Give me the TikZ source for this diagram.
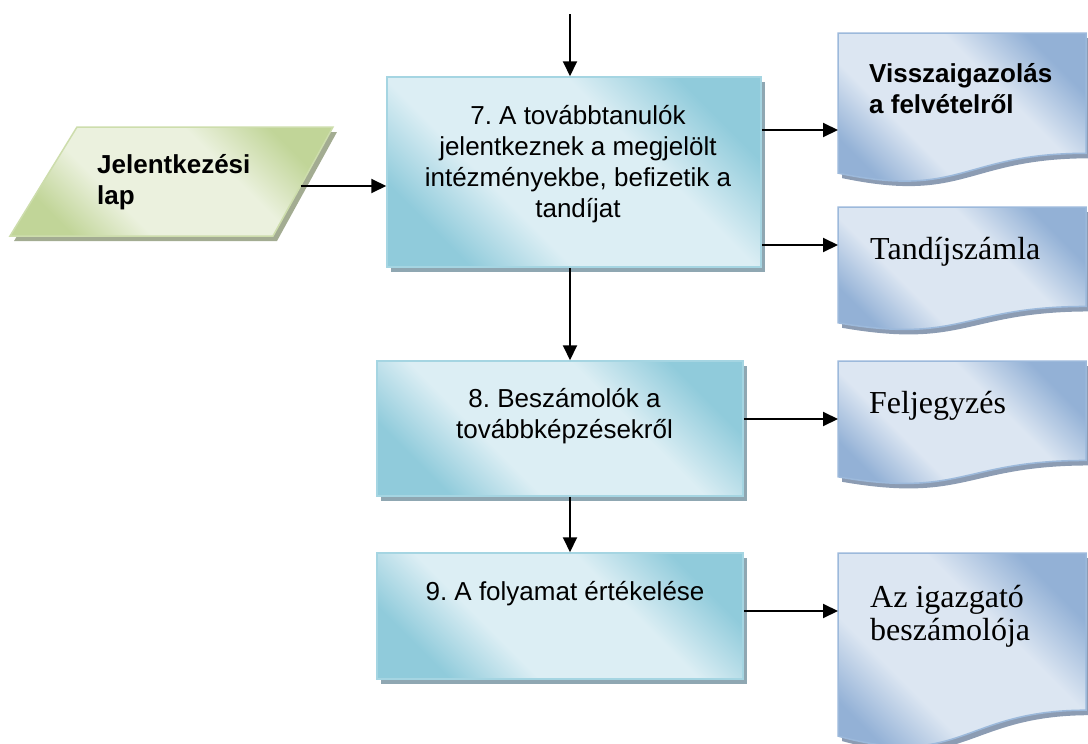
\documentclass[tikz,border=0pt]{standalone}
\usepackage{fontspec}
\setmainfont{Liberation Serif}
\setsansfont{Liberation Sans}
\usetikzlibrary{arrows.meta,shadows}
\frenchspacing

\definecolor{procLight}{HTML}{DCEEF4}
\definecolor{procDark}{HTML}{90CBDB}
\definecolor{procEdge}{HTML}{A5D5E2}
\definecolor{procShadow}{HTML}{8FA7B2}
\definecolor{docLight}{HTML}{DCE6F2}
\definecolor{docDark}{HTML}{93B1D6}
\definecolor{docEdge}{HTML}{9CB9DB}
\definecolor{docShadow}{HTML}{8C9CB3}
\definecolor{dataLight}{HTML}{EBF1DE}
\definecolor{dataDark}{HTML}{C1D598}
\definecolor{dataEdge}{HTML}{CDDDAC}
\definecolor{dataShadow}{HTML}{A3AC92}

% two-sided fills: dark in two opposite corners, light across the middle
% (the filled shape spans 25bp..75bp of each shading)
\pgfdeclareverticalshading{procshade}{100bp}{color(0bp)=(procDark); color(25bp)=(procDark);
  color(38bp)=(procLight); color(61bp)=(procLight); color(75bp)=(procDark); color(100bp)=(procDark)}
\pgfdeclareverticalshading{docshade}{100bp}{color(0bp)=(docDark); color(25bp)=(docDark);
  color(38bp)=(docLight); color(61bp)=(docLight); color(75bp)=(docDark); color(100bp)=(docDark)}
\pgfdeclareverticalshading{datashade}{100bp}{color(0bp)=(dataDark); color(25bp)=(dataDark);
  color(38bp)=(dataLight); color(61bp)=(dataLight); color(75bp)=(dataDark); color(100bp)=(dataDark)}

% outline of a document symbol: top edge y, height h
\newcommand{\docoutline}[2]{(838,#1) -- (1086,#1) -- (1086,{#1+0.802*#2})
  .. controls (962,{#1+0.802*#2}) and (962,{#1+1.1075*#2}) .. (838,{#1+0.934*#2}) -- cycle}
% outline of the data (input) parallelogram
\newcommand{\dataoutline}{(77,127) -- (333,127) -- (273,236) -- (10,236) -- cycle}

\begin{document}
\begin{tikzpicture}[x=1pt,y=-1pt,
  arr/.style={line width=2pt,-{Triangle[length=15pt,width=14pt]}},
  procbox/.style={rectangle, draw=procEdge, line width=1.5pt, inner sep=0pt,
    shading=procshade, shading angle=-45,
    drop shadow={shadow xshift=4pt, shadow yshift=-5pt, fill=procShadow, opacity=1}},
  docbody/.style={draw=docEdge, line width=1.5pt, shading=docshade, shading angle=-45},
  databody/.style={draw=dataEdge, line width=1.5pt, shading=datashade, shading angle=-45},
  shadowshift/.style={shift={(4,5)}},
  proctext/.style={anchor=north, inner sep=0pt, align=center,
    font=\sffamily\fontsize{26}{31}\selectfont},
  boldtext/.style={anchor=north west, inner sep=0pt, align=left,
    font=\sffamily\bfseries\fontsize{26}{31}\selectfont},
  seriftext/.style={anchor=north west, inner sep=0pt, align=left,
    font=\rmfamily\fontsize{32}{33}\selectfont}]
\useasboundingbox (0,0) rectangle (1088,744);

% input data
\fill[dataShadow, shadowshift] \dataoutline;
\path[databody] \dataoutline;

% documents
\foreach \t/\h in {33/150, 207/124, 361/124, 553/196}{
  \fill[docShadow, shadowshift] \docoutline{\t}{\h};
  \path[docbody] \docoutline{\t}{\h};
}

% process steps
\node[procbox, minimum width=374pt, minimum height=190pt] (b7) at (574,172) {};
\node[procbox, minimum width=366pt, minimum height=135pt] (b8) at (560,428.5) {};
\node[procbox, minimum width=366pt, minimum height=126pt] (b9) at (560,616) {};

% connector ends
\coordinate (src) at (570,14);
\coordinate (dataout) at (300.5,186);
\coordinate (in1) at (838,130);
\coordinate (in2) at (838,245);
\coordinate (in3) at (838,419);
\coordinate (in4) at (838,611);

\draw[arr] (src) -- (src |- b7.north);
\draw[arr] (dataout) -- (dataout -| b7.west);
\draw[arr] (in1 -| b7.east) -- (in1);
\draw[arr] (in2 -| b7.east) -- (in2);
\draw[arr] (src |- b7.south) -- (src |- b8.north);
\draw[arr] (in3 -| b8.east) -- (in3);
\draw[arr] (src |- b8.south) -- (src |- b9.north);
\draw[arr] (in4 -| b9.east) -- (in4);

% texts
\node[proctext] (t7) at (578,102.3) {\strut 7. A továbbtanulók\\jelentkeznek a megjelölt\\intézményekbe, befizetik a\\tandíjat};
\node[proctext] (t8) at (564.5,385.3) {\strut 8. Beszámolók a\\továbbképzésekről};
\node[proctext] (t9) at (565,578.3) {\strut 9. A folyamat értékelése};
\node[boldtext] (tdata) at (97,151.3) {\strut Jelentkezési\\lap};
\node[boldtext] (td1) at (869,60.3) {\strut Visszaigazolás\\a felvételről};
\node[seriftext] (td2) at (870,235.9) {\strut Tandíjszámla};
\node[seriftext] (td3) at (869,389.9) {\strut Feljegyzés};
\node[seriftext] (td4) at (870,583.9) {\strut Az igazgató\\beszámolója};
\end{tikzpicture}
\end{document}
